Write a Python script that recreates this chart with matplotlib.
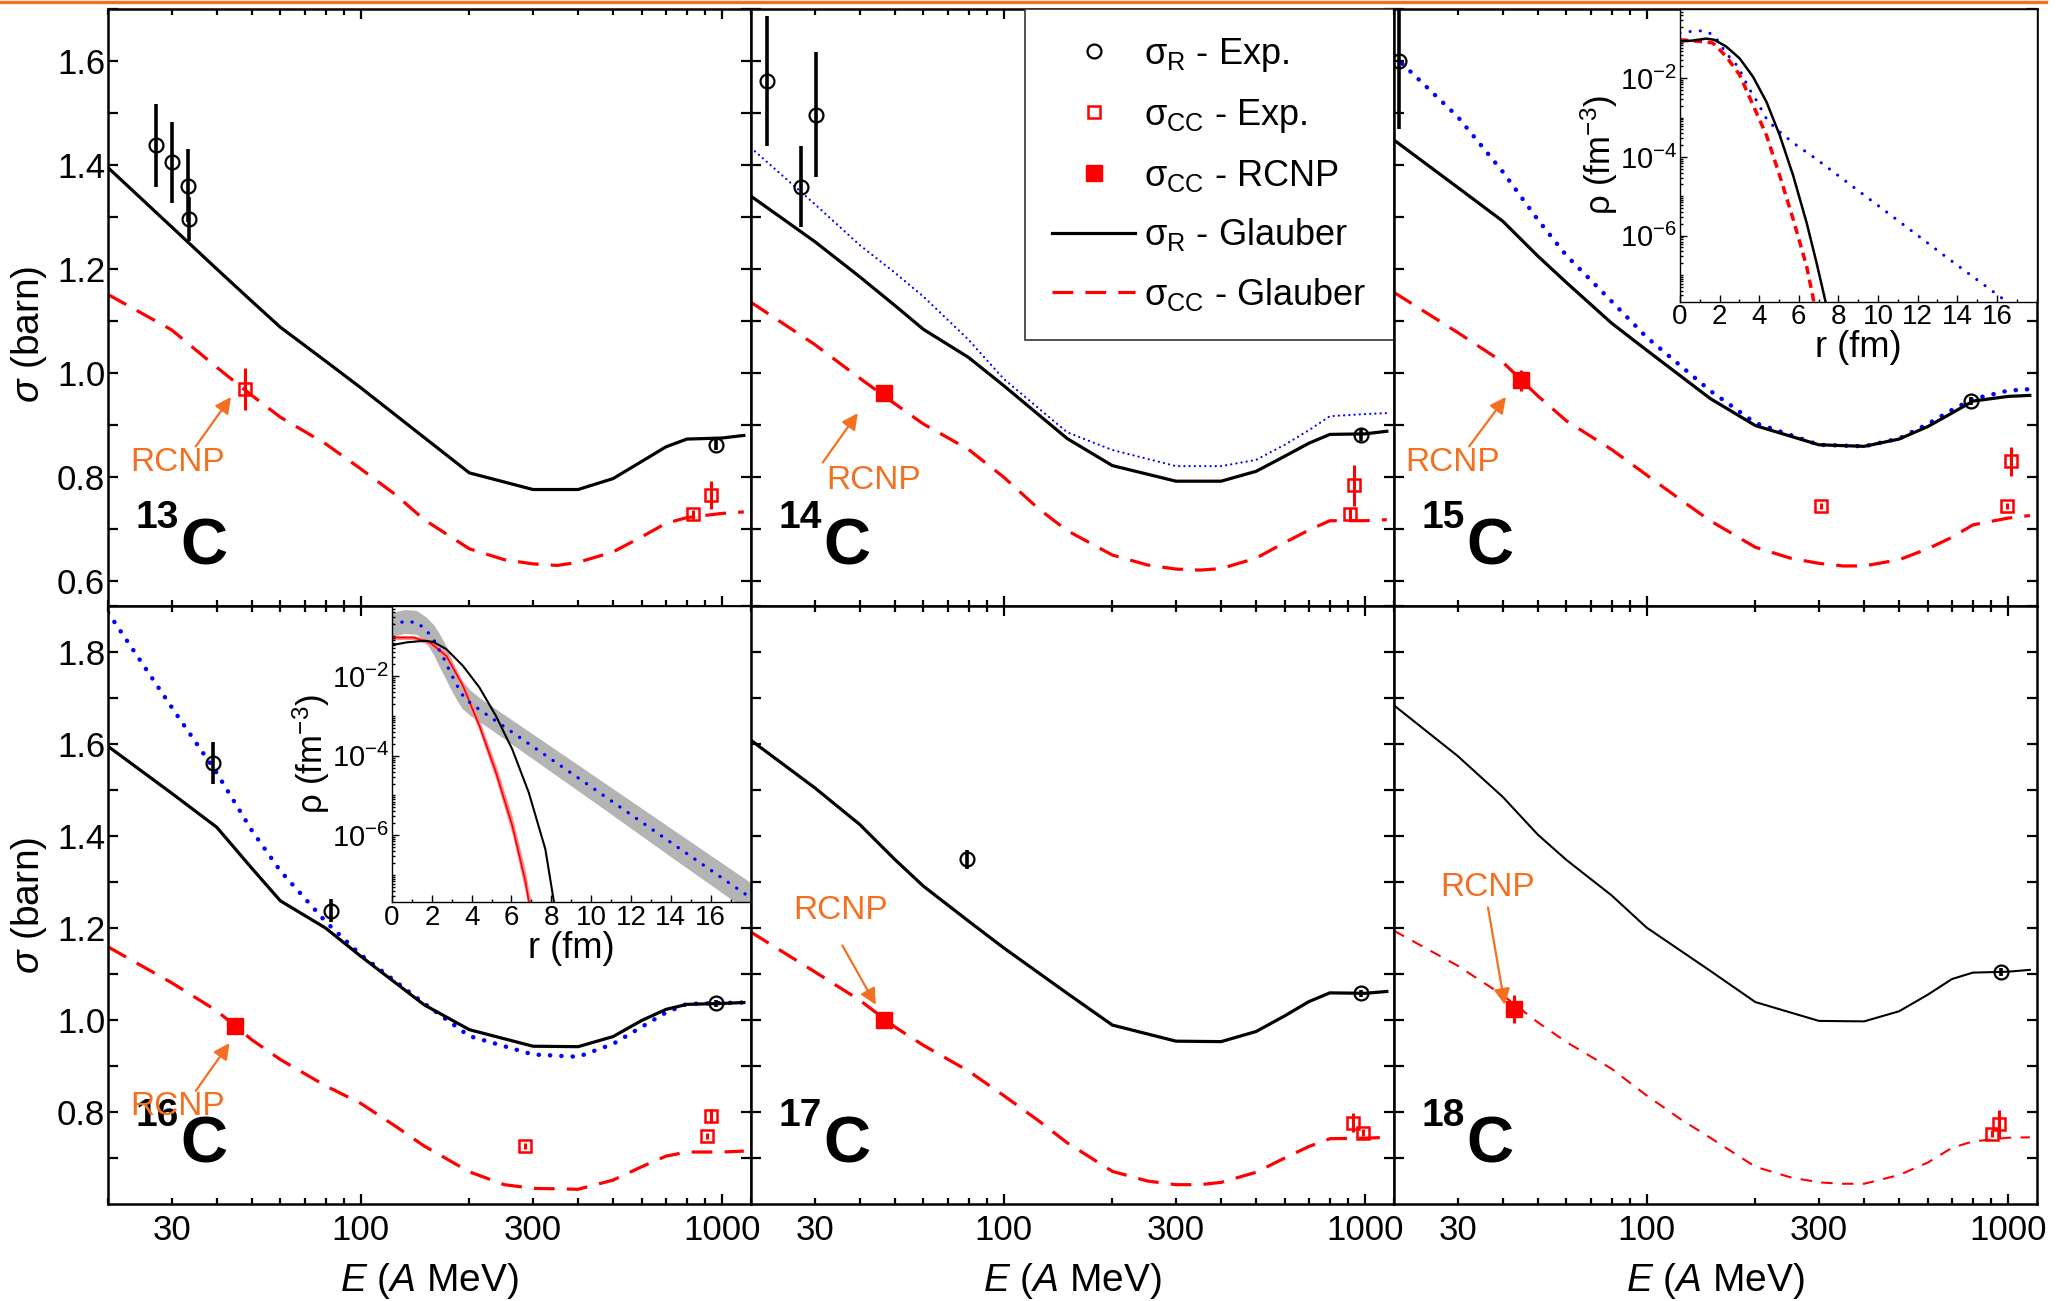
import matplotlib
matplotlib.use("Agg")
import matplotlib.pyplot as plt
import numpy as np
from matplotlib.lines import Line2D
from matplotlib.ticker import (FixedLocator, FormatStrFormatter, NullFormatter,
                               LogLocator, MultipleLocator)

plt.rcParams.update({
    "font.family": ["Liberation Sans", "DejaVu Sans"],
    "mathtext.fontset": "custom",
    "mathtext.rm": "Liberation Sans",
    "mathtext.it": "Liberation Sans:italic",
    "mathtext.bf": "Liberation Sans:bold",
    "axes.linewidth": 1.8,
})

ORANGE = "#F37021"
RED = "#FF0000"
BLUE = "#0000FF"

ISOTOPES = ["13", "14", "15", "16", "17", "18"]

# ---------------------------------------------------------------
# Glauber sigma_R (black solid) and alternative density (blue dotted)
# ---------------------------------------------------------------
E_GL = [20, 30, 40, 50, 60, 80, 100, 150, 200, 300, 400, 500, 600, 700, 800, 1000, 1150]
SR_GL_13 = [1.395, 1.281, 1.200, 1.138, 1.088, 1.023, 0.972, 0.876, 0.808, 0.776, 0.776, 0.797, 0.830, 0.858, 0.873, 0.875, 0.880]
SR_GL_14 = [1.340, 1.253, 1.185, 1.130, 1.084, 1.030, 0.976, 0.874, 0.822, 0.792, 0.792, 0.811, 0.840, 0.865, 0.882, 0.883, 0.888]
SR_GL_15 = [1.448, 1.357, 1.292, 1.225, 1.174, 1.096, 1.044, 0.951, 0.899, 0.862, 0.859, 0.873, 0.897, 0.923, 0.946, 0.955, 0.957]
SR_GL_16 = [1.595, 1.493, 1.419, 1.330, 1.259, 1.200, 1.139, 1.033, 0.979, 0.943, 0.942, 0.964, 0.999, 1.023, 1.034, 1.036, 1.038]
SR_GL_17 = [1.608, 1.505, 1.425, 1.349, 1.291, 1.215, 1.157, 1.058, 0.989, 0.954, 0.953, 0.975, 1.009, 1.040, 1.059, 1.058, 1.062]
SR_GL_18 = [1.684, 1.574, 1.485, 1.403, 1.348, 1.271, 1.201, 1.107, 1.039, 0.998, 0.997, 1.019, 1.055, 1.089, 1.103, 1.105, 1.109]

SR_BLUE_14 = [1.433, 1.325, 1.246, 1.193, 1.147, 1.064, 0.989, 0.886, 0.852, 0.821, 0.821, 0.833, 0.862, 0.890, 0.917, 0.921, 0.923]
SR_BLUE_15 = [1.610, 1.493, 1.387, 1.295, 1.226, 1.138, 1.069, 0.966, 0.904, 0.862, 0.859, 0.874, 0.902, 0.929, 0.950, 0.966, 0.969]
SR_BLUE_16 = [1.886, 1.680, 1.537, 1.412, 1.324, 1.214, 1.142, 1.036, 0.965, 0.925, 0.920, 0.948, 0.985, 1.016, 1.035, 1.037, 1.038]

# Glauber sigma_CC (red dashed)
E_CC = [20, 30, 40, 50, 60, 80, 100, 125, 150, 200, 250, 300, 350, 400, 500, 600, 700, 800, 1000, 1150]
SCC_GL_13 = [1.151, 1.083, 1.011, 0.957, 0.915, 0.864, 0.816, 0.766, 0.718, 0.662, 0.641, 0.633, 0.630, 0.636, 0.656, 0.685, 0.711, 0.722, 0.730, 0.733]
SCC_GL_14 = [1.136, 1.055, 0.990, 0.941, 0.902, 0.853, 0.800, 0.739, 0.697, 0.650, 0.631, 0.623, 0.621, 0.624, 0.644, 0.674, 0.698, 0.716, 0.716, 0.718]
SCC_GL_15 = [1.155, 1.078, 1.021, 0.956, 0.908, 0.853, 0.804, 0.755, 0.716, 0.665, 0.644, 0.634, 0.629, 0.629, 0.641, 0.662, 0.684, 0.708, 0.721, 0.726]
SCC_GL_16 = [1.159, 1.081, 1.020, 0.957, 0.914, 0.857, 0.819, 0.769, 0.726, 0.670, 0.642, 0.634, 0.633, 0.632, 0.652, 0.681, 0.704, 0.713, 0.713, 0.715]
SCC_GL_17 = [1.191, 1.105, 1.043, 0.985, 0.945, 0.889, 0.836, 0.781, 0.733, 0.671, 0.650, 0.642, 0.642, 0.647, 0.669, 0.700, 0.725, 0.742, 0.743, 0.745]
SCC_GL_18 = [1.194, 1.118, 1.054, 0.995, 0.952, 0.894, 0.836, 0.783, 0.744, 0.681, 0.658, 0.647, 0.644, 0.644, 0.663, 0.690, 0.722, 0.736, 0.744, 0.745]

# ---------------------------------------------------------------
# experimental points
# ---------------------------------------------------------------
SR_EXP_ISO = ["13"] * 5 + ["14"] * 4 + ["15"] * 2 + ["16"] * 3 + ["17"] * 2 + ["18"]
SR_EXP_E = [27.1, 30.1, 33.2, 33.6, 964, 22.2, 27.5, 30.3, 977, 20.7, 793, 39.1, 83, 964, 79.3, 973, 960]
SR_EXP_VAL = [1.438, 1.405, 1.360, 1.296, 0.862, 1.562, 1.358, 1.497, 0.881, 1.600, 0.946,
              1.559, 1.237, 1.036, 1.349, 1.058, 1.104]
SR_EXP_ERR = [0.080, 0.078, 0.070, 0.042, 0.010, 0.125, 0.078, 0.120, 0.012, 0.130, 0.008,
              0.045, 0.025, 0.008, 0.020, 0.008, 0.008]

SCC_EXP_ISO = ["13"] * 3 + ["14"] * 2 + ["15"] * 3 + ["16"] * 3 + ["17"] * 2 + ["18"] * 2
SCC_EXP_E = [47.9, 831, 934, 912, 933, 304, 993, 1021, 286, 912, 934, 925, 990, 903, 946]
SCC_EXP_VAL = [0.969, 0.728, 0.766, 0.729, 0.784, 0.745, 0.745, 0.830, 0.726, 0.748, 0.792,
               0.777, 0.755, 0.753, 0.774]
SCC_EXP_ERR = [0.040, 0.008, 0.027, 0.012, 0.040, 0.006, 0.006, 0.028, 0.006, 0.006, 0.015,
               0.020, 0.008, 0.008, 0.030]

RCNP_ISO = ["14", "15", "16", "17", "18"]
RCNP_E = [46.6, 45.0, 44.8, 46.6, 43.0]
RCNP_VAL = [0.961, 0.986, 0.987, 0.999, 1.024]
RCNP_ERR = [0.012, 0.020, 0.015, 0.010, 0.030]

# ---------------------------------------------------------------
# density insets (r in fm, log10 rho)
# ---------------------------------------------------------------
IN15_R_BLACK = [0, 0.64, 1.32, 1.74, 2.33, 3.01, 3.69, 4.37, 5.04, 5.72, 6.4, 6.9, 7.36, 7.6]
IN15_LOG_BLACK = [-1.06, -1.04, -0.99, -1.02, -1.19, -1.49, -1.96, -2.6, -3.45, -4.48, -5.68, -6.7, -7.7, -8.2]
IN15_R_RED = [0, 0.98, 1.66, 2.33, 3.01, 3.69, 4.37, 5.04, 5.72, 6.4, 6.77, 7.0]
IN15_LOG_RED = [-1.02, -1.06, -1.10, -1.44, -1.91, -2.68, -3.45, -4.48, -5.59, -6.79, -7.7, -8.2]
IN15_R_BLUE = [0, 0.64, 1.24, 1.74, 2.33, 2.93, 3.49, 3.86, 4.37, 4.84, 5.3, 5.8, 6.82, 8.85, 10.88, 13.4, 16.55, 18.0]
IN15_LOG_BLUE = [-0.85, -0.80, -0.79, -0.91, -1.36, -1.70, -2.26, -2.56, -3.03, -3.28, -3.47, -3.67,
                 -4.03, -4.80, -5.57, -6.53, -7.70, -8.25]

IN16_R_BLACK = [0, 0.75, 1.66, 2.07, 2.73, 3.56, 4.39, 5.22, 6.04, 6.87, 7.7, 8.11, 8.3]
IN16_LOG_BLACK = [-1.22, -1.15, -1.11, -1.14, -1.32, -1.74, -2.285, -3.0, -3.84, -4.93, -6.35, -7.61, -8.2]
IN16_R_RED = [0, 1.08, 1.9, 2.73, 3.56, 4.39, 5.22, 6.04, 6.71, 6.87, 7.0]
IN16_LOG_RED = [-1.028, -1.03, -1.15, -1.49, -2.24, -3.25, -4.42, -5.76, -7.19, -7.67, -8.0]
IN16_ERR_RED = [0.05, 0.05, 0.06, 0.08, 0.10, 0.14, 0.18, 0.22, 0.26, 0.28, 0.28]
IN16_R_BLUE = [0, 0.66, 1.24, 1.7, 2.1, 2.4, 2.68, 2.95, 3.23, 3.5, 3.9, 4.47, 4.97, 10.12, 14.2, 17.8, 18.0]
IN16_LOG_BLUE = [-0.692, -0.625, -0.65, -0.83, -1.09, -1.37, -1.63, -1.93, -2.2, -2.45, -2.66, -2.87,
                 -3.04, -4.825, -6.25, -7.50, -7.57]
IN16_ERR_BLUE = [0.30, 0.30, 0.30, 0.32, 0.38, 0.42, 0.42, 0.40, 0.38, 0.35, 0.32, 0.30,
                 0.30, 0.33, 0.36, 0.38, 0.38]

# ---------------------------------------------------------------
# layout (pixels of the 2069 x 1301 canvas)
# ---------------------------------------------------------------
W, H = 2069.0, 1301.0
COL_X = [108, 751, 1394]
COL_W = 642.5
ROW_Y = [(9, 606), (606, 1204)]
YLIMS = [(0.552, 1.70), (0.60, 1.90)]
YMAJ = [[0.6, 0.8, 1.0, 1.2, 1.4, 1.6], [0.8, 1.0, 1.2, 1.4, 1.6, 1.8]]
YMIN = [[0.7, 0.9, 1.1, 1.3, 1.5, 1.7], [0.7, 0.9, 1.1, 1.3, 1.5, 1.7, 1.9]]
YLABEL_PX = [(29, 334), (29, 905)]
XLABEL_PY = 1281
X_MINOR = [20, 30, 40, 50, 60, 70, 80, 90, 200, 300, 400, 500, 600, 700, 800, 900]

# RCNP note: text centre, arrow tail, arrow head (data coords)
RCNP_NOTE = {
    "13": ((31.2, 0.827), (35.0, 0.859), (43.8, 0.954)),
    "14": ((43.8, 0.794), (31.6, 0.828), (39.5, 0.923)),
    "15": ((29.1, 0.828), (32.3, 0.859), (40.8, 0.954)),
    "16": ((31.2, 0.812), (35.0, 0.846), (43.4, 0.950)),
    "17": ((35.3, 1.238), (35.8, 1.162), (44.3, 1.033)),
    "18": ((36.4, 1.288), (36.4, 1.245), (40.5, 1.033)),
}

SR_GL = dict(zip(ISOTOPES, [SR_GL_13, SR_GL_14, SR_GL_15, SR_GL_16, SR_GL_17, SR_GL_18]))
SCC_GL = dict(zip(ISOTOPES, [SCC_GL_13, SCC_GL_14, SCC_GL_15, SCC_GL_16, SCC_GL_17, SCC_GL_18]))
SR_BLUE = {"14": SR_BLUE_14, "15": SR_BLUE_15, "16": SR_BLUE_16}


def pick(iso_col, iso, *cols):
    idx = [i for i, s in enumerate(iso_col) if s == iso]
    return [np.array([c[i] for i in idx]) for c in cols]


def style_inset(ins):
    ins.set_yscale("log")
    ins.set_xlim(0, 18)
    ins.set_ylim(2.1e-8, 0.58)
    ins.set_xticks(range(0, 17, 2))
    ins.xaxis.set_minor_locator(MultipleLocator(1))
    ins.yaxis.set_major_locator(FixedLocator([1e-2, 1e-4, 1e-6]))
    ins.yaxis.set_minor_locator(LogLocator(base=10, subs=np.arange(1, 10), numticks=40))
    ins.yaxis.set_minor_formatter(NullFormatter())
    ins.tick_params(which="both", direction="in", top=False, right=False, width=1.0)
    ins.tick_params(which="major", length=5, pad=3)
    ins.tick_params(which="minor", length=2.5)
    ins.tick_params(axis="x", labelsize=20, pad=2)
    ins.tick_params(axis="y", labelsize=21, pad=2)
    for sp in ins.spines.values():
        sp.set_linewidth(1.0)
    ins.set_xlabel("r (fm)", fontsize=26, labelpad=0)
    ins.set_ylabel(r"ρ (fm$^{-3}$)", fontsize=25, labelpad=0)


fig = plt.figure(figsize=(W / 100, H / 100), dpi=100)

for i, iso in enumerate(ISOTOPES):
    r, c = divmod(i, 3)
    top, bot = ROW_Y[r]
    ax = fig.add_axes([COL_X[c] / W, 1 - bot / H, COL_W / W, (bot - top) / H])

    thin = iso == "18"
    lw = 1.5 if thin else 2.3
    dash = (0, (5.5, 4.5)) if thin else (0, (6.5, 3.8))

    if iso in SR_BLUE:
        if iso == "14":
            ax.plot(E_GL, SR_BLUE[iso], color=BLUE, lw=1.6, ls=(0, (0.05, 2.3)),
                    dash_capstyle="round", zorder=2)
        else:
            ax.plot(E_GL, SR_BLUE[iso], color=BLUE, lw=3.2, ls=(0, (0.05, 2.5)),
                    dash_capstyle="round", zorder=2)
    ax.plot(E_GL, SR_GL[iso], color="black", lw=lw, zorder=3)
    ax.plot(E_CC, SCC_GL[iso], color=RED, lw=lw, ls=dash, zorder=2.5)

    e, v, s = pick(SR_EXP_ISO, iso, SR_EXP_E, SR_EXP_VAL, SR_EXP_ERR)
    ax.errorbar(e, v, yerr=s, fmt="o", ms=10, mfc="none", mec="black", mew=1.6,
                ecolor="black", elinewidth=2.6, capsize=0, zorder=5)
    e, v, s = pick(SCC_EXP_ISO, iso, SCC_EXP_E, SCC_EXP_VAL, SCC_EXP_ERR)
    ax.errorbar(e, v, yerr=s, fmt="s", ms=8, mfc="none", mec=RED, mew=1.8,
                ecolor=RED, elinewidth=2.2, capsize=0, zorder=5)
    if iso in RCNP_ISO:
        e, v, s = pick(RCNP_ISO, iso, RCNP_E, RCNP_VAL, RCNP_ERR)
        ax.errorbar(e, v, yerr=s, fmt="s", ms=11, mfc=RED, mec=RED,
                    ecolor=RED, elinewidth=2.2, capsize=0, zorder=5)

    # axes / ticks
    ax.set_xscale("log")
    ax.set_xlim(20, 1200)
    ax.set_ylim(*YLIMS[r])
    ax.set_xticks([100, 1000])
    ax.set_xticks(X_MINOR, minor=True)
    ax.set_xticklabels(["100", "1000"])
    ax.set_xticklabels(["30" if m == 30 else "300" if m == 300 else "" for m in X_MINOR], minor=True)
    ax.yaxis.set_major_locator(FixedLocator(YMAJ[r]))
    ax.yaxis.set_minor_locator(FixedLocator(YMIN[r]))
    ax.yaxis.set_major_formatter(FormatStrFormatter("%.1f"))
    ax.tick_params(which="both", direction="in", top=True, right=True, width=1.6,
                   labelsize=25)
    ax.tick_params(axis="y", which="both", length=7, pad=2)
    ax.tick_params(axis="x", which="major", length=7, pad=7)
    ax.tick_params(axis="x", which="minor", length=4.5, pad=7)
    ax.tick_params(which="both", labelleft=(c == 0), labelbottom=(r == 1))

    if c == 0:
        px, py = YLABEL_PX[r]
        fig.text(px / W, 1 - py / H, r"$\sigma$ (barn)", fontsize=28, rotation=90,
                 ha="center", va="center")
    if r == 1:
        fig.text((COL_X[c] + COL_W / 2) / W, 1 - XLABEL_PY / H, r"$E$ ($A$ MeV)",
                 fontsize=28, ha="center", va="center")

    # isotope label
    ax.text(0.043, 0.13, iso, transform=ax.transAxes, fontsize=28,
            fontweight="bold", ha="left", va="baseline")
    ax.text(0.112, 0.070, "C", transform=ax.transAxes, fontsize=47,
            fontweight="bold", ha="left", va="baseline")

    # RCNP note
    (tx, ty), tail, head = RCNP_NOTE[iso]
    ax.text(tx, ty, "RCNP", color=ORANGE, fontsize=24, ha="center", va="center", zorder=6)
    ax.annotate("", xy=head, xytext=tail,
                arrowprops=dict(arrowstyle="-|>", color=ORANGE, lw=1.6,
                                mutation_scale=24, shrinkA=0, shrinkB=0), zorder=6)

    if iso == "14":
        handles = [
            Line2D([], [], ls="none", marker="o", ms=10, mfc="none", mec="black", mew=1.6),
            Line2D([], [], ls="none", marker="s", ms=8, mfc="none", mec=RED, mew=1.8),
            Line2D([], [], ls="none", marker="s", ms=11, mfc=RED, mec=RED),
            Line2D([], [], color="black", lw=2.3),
            Line2D([], [], color=RED, lw=2.3, ls=(0, (6.5, 3.8))),
        ]
        labels = [r"σ$_\mathrm{R}$ - Exp.", r"σ$_\mathrm{CC}$ - Exp.",
                  r"σ$_\mathrm{CC}$ - RCNP", r"σ$_\mathrm{R}$ - Glauber",
                  r"σ$_\mathrm{CC}$ - Glauber"]
        leg = ax.legend(handles, labels, loc="upper right", bbox_to_anchor=(1.0, 1.0),
                        borderaxespad=0, fontsize=26, handlelength=2.3,
                        handletextpad=0.25, borderpad=0.75, labelspacing=0.63,
                        fancybox=False, framealpha=1, edgecolor="#333333")
        leg.get_frame().set_linewidth(1.2)

    if iso == "15":
        ins = ax.inset_axes([0.445, 0.51, 0.555, 0.49])
        style_inset(ins)
        ins.plot(IN15_R_BLUE, 10 ** np.array(IN15_LOG_BLUE), color=BLUE, lw=2.2,
                 ls=(0, (0.05, 3.3)), dash_capstyle="round")
        ins.plot(IN15_R_RED, 10 ** np.array(IN15_LOG_RED), color=RED, lw=2.5,
                 ls=(0, (2.4, 1.6)))
        ins.plot(IN15_R_BLACK, 10 ** np.array(IN15_LOG_BLACK), color="black", lw=1.8)

    if iso == "16":
        ins = ax.inset_axes([0.442, 0.505, 0.558, 0.495])
        style_inset(ins)
        lb = np.array(IN16_LOG_BLUE)
        hb = np.array(IN16_ERR_BLUE)
        ins.fill_between(IN16_R_BLUE, 10 ** (lb - hb), 10 ** (lb + hb), color="#B4B4B4", lw=0)
        lr = np.array(IN16_LOG_RED)
        hr = np.array(IN16_ERR_RED)
        ins.fill_between(IN16_R_RED, 10 ** (lr - hr), 10 ** (lr + hr), color="#FF8C8C", lw=0)
        ins.plot(IN16_R_RED, 10 ** lr, color=RED, lw=1.2)
        ins.plot(IN16_R_BLUE, 10 ** lb, color=BLUE, lw=2.4, ls=(0, (0.05, 3.0)),
                 dash_capstyle="round")
        ins.plot(IN16_R_BLACK, 10 ** np.array(IN16_LOG_BLACK), color="black", lw=1.5)

# orange rule along the top edge
fig.add_artist(Line2D([0, 2046 / W], [1 - 1.5 / H, 1 - 1.5 / H], transform=fig.transFigure,
                      color=ORANGE, lw=2.4))

fig.savefig("out.png", dpi=100)
